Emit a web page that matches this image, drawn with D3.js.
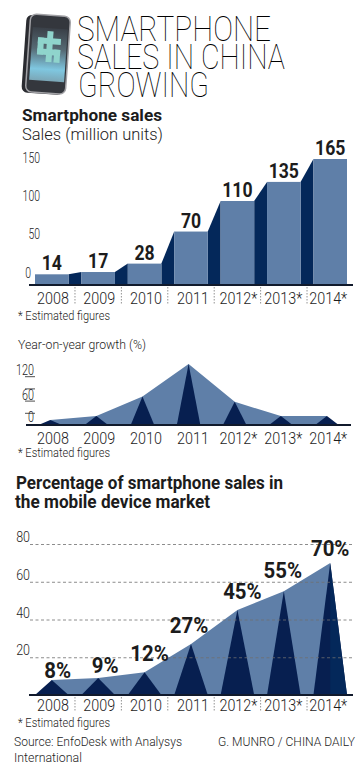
<!DOCTYPE html>
<html>
<head>
<meta charset="utf-8">
<style>
html,body{margin:0;padding:0;background:#fff;}
svg{display:block;}
text{fill:#1c1c1c;}
.thin{font-family:"Roboto",sans-serif;font-weight:300;}
.bold{font-family:"Roboto",sans-serif;font-weight:700;}
.axis text{font-family:"Roboto",sans-serif;font-weight:300;fill:#1c1c1c;}
.axis path{display:none;}
</style>
</head>
<body>
<div id="chart"></div>
<script src="https://cdnjs.cloudflare.com/ajax/libs/d3/7.8.5/d3.min.js"></script>
<script>
var years = ["2008","2009","2010","2011","2012*","2013*","2014*"];
var salesValues = [14,17,28,70,110,135,165];
var growthValues = [12,22,70,150,57,22,22];
var shareValues = [8,9,12,27,45,55,70];
var salesTicks = [0,50,100,150];
var growthTicks = [0,30,60,90,120];
var growthLabels = [0,60,120];
var shareTicks = [20,40,60,80];

var lightBlue = "#5f7fa8";
var darkBlue = "#04285a";
var navy = "#071f50";
var lineColor = "#111a2c";

var w = 363;
var h = 771;

var svg = d3.select("#chart").append("svg").attr("width", w).attr("height", h);

//same columns for all three panels
var xScale = d3.scaleBand().domain(years).range([35,347]).paddingInner(0.277).paddingOuter(0);
var xGrowth = d3.scaleBand().domain(years).range([38.5,338.7]).paddingInner(0.49).paddingOuter(0);

var lineGen = d3.line().x(function(d){return d[0];}).y(function(d){return d[1];});

function fitText(x, y, str, size, width, cls){
	return svg.append("text").attr("class", cls).attr("x", x).attr("y", y)
		.attr("textLength", width).attr("lengthAdjust", "spacingAndGlyphs")
		.style("font-size", size + "px").text(str);
}

//the original type is condensed, squeeze the installed font to match
function condense(sel, factor){
	sel.each(function(){
		d3.select(this).attr("textLength", this.getComputedTextLength()*factor)
			.attr("lengthAdjust", "spacingAndGlyphs");
	});
}

function center(scale, d){
	return scale(d) + scale.bandwidth()/2;
}

function drawYearAxis(y, sepTop, sepBottom, withSeparators){
	var yearAxis = d3.axisBottom(xScale).tickSize(0).tickPadding(0);
	var g = svg.append("g").attr("class","axis").attr("transform","translate(0," + y + ")").call(yearAxis);
	var labels = g.selectAll("text").attr("dy", 0).attr("y", 0)
		.style("font-size","16.5px")
		.attr("dx", function(d,i){ return [1.2,1,1.4,2,1,-0.5,-2][i]; });
	condense(labels, 0.87);
	if(withSeparators){
		svg.selectAll(null).data(years.slice(1)).enter().append("line")
			.attr("x1", function(d){return xScale(d) - xScale.step()*0.277/2;})
			.attr("x2", function(d){return xScale(d) - xScale.step()*0.277/2;})
			.attr("y1", sepTop).attr("y2", sepBottom)
			.attr("stroke","#777").attr("stroke-width",0.8).attr("stroke-dasharray","1.5 1.5");
	}
}

function baseline(x1, x2, y){
	svg.append("line").attr("x1",x1).attr("x2",x2).attr("y1",y).attr("y2",y)
		.attr("stroke",lineColor).attr("stroke-width",2);
}

function drawHeader(){
	fitText(77,41,"SMARTPHONE",35,194,"thin").style("font-weight",100).style("fill","#000");
	fitText(77,69,"SALES IN CHINA",35,208,"thin").style("font-weight",100).style("fill","#000");
	fitText(78,97,"GROWING",35,131,"thin").style("font-weight",100).style("fill","#000");

	fitText(22,121,"Smartphone sales",17,140,"bold");
	fitText(22,140,"Sales (million units)",17,141,"thin");
	fitText(18,320,"* Estimated figures",13,92,"thin");
	fitText(18,349,"Year-on-year growth (%)",13,128,"thin");
	fitText(18,457,"* Estimated figures",13,92,"thin");
	fitText(16,489,"Percentage of smartphone sales in",17.5,267,"bold");
	fitText(15,508,"the mobile device market",17.5,195,"bold");
	fitText(18,727,"* Estimated figures",13,92,"thin");
	fitText(14,746,"Source: EnfoDesk with Analysys",13,168,"thin");
	fitText(14,762,"International",13,68,"thin");
	fitText(218,746,"G. MUNRO / CHINA DAILY",12.5,137,"thin");
}

//phone picture next to the title
function drawPhone(){
	var defs = svg.append("defs");
	var grad = defs.append("linearGradient").attr("id","screen").attr("x1",0).attr("x2",0).attr("y1",0).attr("y2",1);
	grad.append("stop").attr("offset","0%").attr("stop-color","#3a4048");
	grad.append("stop").attr("offset","40%").attr("stop-color","#566a74");
	grad.append("stop").attr("offset","78%").attr("stop-color","#7fc7e0");
	grad.append("stop").attr("offset","100%").attr("stop-color","#7ba6b6");

	var g = svg.append("g").attr("transform","rotate(4 47 54)");
	g.append("rect").attr("x",24).attr("y",16).attr("width",42).attr("height",78).attr("rx",6)
		.attr("fill","#2a2b30");
	g.append("rect").attr("x",28).attr("y",15).attr("width",40).attr("height",78).attr("rx",6)
		.attr("fill","#34373d").attr("stroke","#a2a2a6").attr("stroke-width",1.5);
	g.append("rect").attr("x",31).attr("y",28).attr("width",35).attr("height",53).attr("fill","url(#screen)");
	var symbol = [[37,38,23,6],[37,49,23,6],[46,31,6,31],[37,38,6,17],[54,49,6,13]];
	g.selectAll(null).data(symbol).enter().append("rect")
		.attr("x",function(d){return d[0];}).attr("y",function(d){return d[1];})
		.attr("width",function(d){return d[2];}).attr("height",function(d){return d[3];})
		.attr("fill","#8fd4cc");
}

function drawSales(){
	var yBase = 285;
	var yScale = d3.scaleLinear().domain([0,165]).range([yBase,yBase-126]);

	//dark risers between the bars
	svg.selectAll(null).data(years.slice(1)).enter().append("path")
		.attr("fill",darkBlue)
		.attr("d",function(d,i){
			var prevRight = xScale(years[i]) + xScale.bandwidth();
			return lineGen([[prevRight,yScale(salesValues[i])],[xScale(d),yScale(salesValues[i+1])],[xScale(d),yBase],[prevRight,yBase]]) + "Z";
		});

	svg.selectAll(null).data(years).enter().append("rect")
		.attr("x",function(d){return xScale(d);})
		.attr("y",function(d,i){return yScale(salesValues[i]);})
		.attr("width",xScale.bandwidth())
		.attr("height",function(d,i){return yBase - yScale(salesValues[i]);})
		.attr("fill",lightBlue);

	baseline(29,353,yBase);

	var yAxis = d3.axisLeft(yScale).tickValues(salesTicks).tickSize(0).tickPadding(0);
	var g = svg.append("g").attr("class","axis").attr("transform","translate(40,0)").call(yAxis);
	var labels = g.selectAll("text").attr("dy",-8).attr("dx",function(d){return d === 0 ? -9 : 0;})
		.style("font-size","14.5px");
	condense(labels, 0.72);

	var values = svg.selectAll(null).data(years).enter().append("text")
		.attr("class","bold").attr("text-anchor","middle")
		.attr("x",function(d){return center(xScale,d);})
		.attr("y",function(d,i){return yScale(salesValues[i]) - 4;})
		.style("font-size","20.5px")
		.text(function(d,i){return salesValues[i];});
	condense(values, 0.86);

	drawYearAxis(304,287,305,true);
}

function drawGrowth(){
	var yBase = 425;
	var yScale = d3.scaleLinear().domain([0,150]).range([yBase,yBase-61]);

	var area = d3.area().x(function(d){return center(xGrowth,d);})
		.y0(yBase).y1(function(d,i){return yScale(growthValues[i]);});
	svg.append("path").attr("d",area(years)).attr("fill",lightBlue);

	svg.selectAll(null).data(years).enter().append("path")
		.attr("fill",navy)
		.attr("d",function(d,i){
			return lineGen([[xGrowth(d),yBase],[center(xGrowth,d),yScale(growthValues[i])],[xGrowth(d)+xGrowth.bandwidth(),yBase]]) + "Z";
		});

	baseline(26,351,yBase);

	var yAxis = d3.axisLeft(yScale).tickValues(growthTicks.slice(1)).tickSize(10).tickPadding(0).tickFormat("");
	var g = svg.append("g").attr("class","axis").attr("transform","translate(35,0)").call(yAxis);
	g.selectAll("line").attr("stroke","#222").attr("stroke-width",0.8);

	var labels = svg.selectAll(null).data(growthLabels).enter().append("text")
		.attr("class","thin").attr("text-anchor","end")
		.attr("x",34)
		.attr("y",function(d){return yScale(d) - (d === 0 ? 3 : 1);})
		.style("font-size","15px")
		.text(function(d){return d;});
	condense(labels, 0.72);

	drawYearAxis(444,0,0,false);
}

function drawShare(){
	var yBase = 695;
	var yScale = d3.scaleLinear().domain([0,80]).range([yBase,yBase-151]);

	var pts = years.map(function(d,i){return [center(xScale,d),yScale(shareValues[i])];});
	var area = d3.area().x(function(d){return d[0];}).y0(yBase).y1(function(d){return d[1];});
	svg.append("path").attr("d",area(pts)).attr("fill",lightBlue);

	svg.selectAll(null).data(years).enter().append("path")
		.attr("fill",navy)
		.attr("d",function(d,i){
			return lineGen([[xScale(d),yBase],pts[i],[xScale(d)+xScale.bandwidth(),yBase]]) + "Z";
		});
	//last spike has a lighter right side
	var last = years.length-1;
	svg.append("path").attr("fill",darkBlue)
		.attr("d",lineGen([pts[last],[pts[last][0],yBase],[xScale(years[last])+xScale.bandwidth(),yBase]]) + "Z");

	var grid = d3.axisLeft(yScale).tickValues(shareTicks).tickSize(-323).tickPadding(0).tickFormat("");
	var g = svg.append("g").attr("class","axis").attr("transform","translate(30,0)").call(grid);
	g.selectAll("line").attr("stroke","#6f6f6f").attr("stroke-width",0.8).attr("stroke-dasharray","3 2.5");

	var labels = svg.selectAll(null).data(shareTicks).enter().append("text")
		.attr("class","thin").attr("text-anchor","end")
		.attr("x",30)
		.attr("y",function(d){return yScale(d) - 2;})
		.style("font-size","14.5px")
		.text(function(d){return d;});
	condense(labels, 0.86);

	baseline(29,353,yBase);

	var nudgeX = [6,7,5,-2,5,-1,0];
	var nudgeY = [-2,-5,-11,-11,-11,-13,-7];
	var values = svg.selectAll(null).data(years).enter().append("text")
		.attr("class","bold").attr("text-anchor","middle")
		.attr("x",function(d,i){return pts[i][0] + nudgeX[i];})
		.attr("y",function(d,i){return pts[i][1] + nudgeY[i];})
		.style("font-size","21.5px")
		.text(function(d,i){return shareValues[i] + "%";});
	condense(values, 0.95);

	drawYearAxis(711,697,711,true);
}

drawHeader();
drawPhone();
drawSales();
drawGrowth();
drawShare();
</script>
</body>
</html>
